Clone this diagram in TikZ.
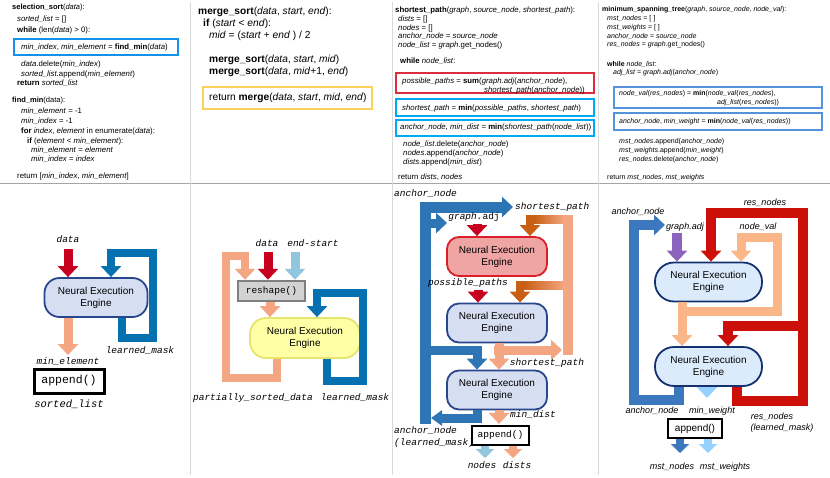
\documentclass[tikz,border=0pt]{standalone}
\usepackage{fontspec}
\setmainfont{Liberation Sans}
\setmonofont{Liberation Mono}
\usetikzlibrary{arrows.meta, positioning}

\definecolor{nred}{RGB}{200,0,32}
\definecolor{salmon}{RGB}{244,165,130}
\definecolor{nblue}{RGB}{5,113,176}
\definecolor{skyblue}{RGB}{146,197,222}
\definecolor{neefill}{RGB}{214,222,242}
\definecolor{needraw}{RGB}{40,70,140}
\definecolor{yfill}{RGB}{255,255,165}
\definecolor{ydraw}{RGB}{228,228,110}
\definecolor{rfill}{RGB}{240,165,165}
\definecolor{rdraw}{RGB}{220,30,40}
\definecolor{mblue}{RGB}{46,117,182}
\definecolor{dorange}{RGB}{200,95,20}
\definecolor{tblue}{RGB}{60,120,190}
\definecolor{purple4}{RGB}{140,100,190}
\definecolor{red4}{RGB}{205,15,10}
\definecolor{peach}{RGB}{250,182,135}
\definecolor{lblue4}{RGB}{150,210,255}
\definecolor{fill4}{RGB}{220,235,252}
\definecolor{draw4}{RGB}{20,50,110}
\definecolor{cbox1}{RGB}{20,145,230}
\definecolor{ybox}{RGB}{250,210,90}
\definecolor{rbox}{RGB}{220,45,60}
\definecolor{cbox3}{RGB}{0,170,240}
\definecolor{cbox4}{RGB}{85,145,220}

\begin{document}
\begin{tikzpicture}[x=1pt, y=-1pt, every node/.style={inner sep=1pt},
    code/.style={anchor=west, inner sep=0pt, font=\fontsize{7.8}{8}\selectfont},
    bigcode/.style={anchor=west, inner sep=0pt, font=\fontsize{10.2}{11}\selectfont},
    smallcode/.style={anchor=west, inner sep=0pt, font=\fontsize{7}{8}\selectfont},
    lbl/.style={font=\ttfamily\itshape\fontsize{9.5}{10}\selectfont},
    slbl/.style={font=\itshape\fontsize{9}{10}\selectfont},
    nee/.style={draw=needraw, fill=neefill, line width=1.8pt, rounded corners=15pt, minimum width=103pt, minimum height=39pt, align=center, font=\fontsize{10}{12}\selectfont},
    apbox/.style={draw, line width=2.5pt, fill=white, font=\ttfamily\fontsize{9.5}{10}\selectfont, minimum width=57pt, minimum height=19pt},
    fat/.style={line width=9pt, -{Triangle[width=20pt, length=11pt]}},
    outarrow/.style={line width=8pt, -{Triangle[width=18pt, length=9pt]}}]
    \useasboundingbox (0,0) rectangle (830,477);
    \draw[gray!70, line width=.8pt] (0,183) -- (830,183);
    \draw[gray!30] (190,2) -- (190,475);
    \draw[gray!30] (392,2) -- (392,475);
    \draw[gray!30] (598,2) -- (598,475);

    \node[code, font=\fontsize{7.5}{8}\selectfont] (ss1) at (12,8) {\textbf{selection\_sort}(\textit{data}):};
    \node[code] (ss2) at (17,19) {\textit{sorted\_list} = []};
    \node[code] (ss3) at (17,30) {\textbf{while} (len(\textit{data}) > 0):};
    \draw[cbox1, line width=2pt] (14,39) rectangle (178,55);
    \node[code] (ss4) at (21,47) {\textit{min\_index}, \textit{min\_element} = \textbf{find\_min}(\textit{data})};
    \node[code] (ss5) at (21,64) {\textit{data}.delete(\textit{min\_index})};
    \node[code] (ss6) at (21,74) {\textit{sorted\_list}.append(\textit{min\_element})};
    \node[code] (ss7) at (17,83) {\textbf{return} \textit{sorted\_list}};
    \node[code, font=\fontsize{7.5}{8}\selectfont] (fm1) at (12,101) {\textbf{find\_min}(data):};
    \node[code] (fm2) at (21,111) {\textit{min\_element} = -1};
    \node[code] (fm3) at (21,121) {\textit{min\_index} = -1};
    \node[code] (fm4) at (21,131) {\textbf{for} \textit{index}, \textit{element} in enumerate(\textit{data}):};
    \node[code] (fm5) at (27,141) {\textbf{if} (\textit{element} < \textit{min\_element}):};
    \node[code] (fm6) at (31,150) {\textit{min\_element} = \textit{element}};
    \node[code] (fm7) at (31,159) {\textit{min\_index} = \textit{index}};
    \node[code] (fm8) at (17,176) {return [\textit{min\_index}, \textit{min\_element}]};

    \node[bigcode] (ms1) at (198,12) {\textbf{merge\_sort}(\textit{data}, \textit{start}, \textit{end}):};
    \node[bigcode] (ms2) at (203,24) {\textbf{if} (\textit{start} < \textit{end}):};
    \node[bigcode] (ms3) at (209,36) {\textit{mid} = (\textit{start} + \textit{end} ) / 2};
    \node[bigcode] (ms4) at (209,60) {\textbf{merge\_sort}(\textit{data}, \textit{start}, \textit{mid})};
    \node[bigcode] (ms5) at (209,72) {\textbf{merge\_sort}(\textit{data}, \textit{mid}+1, \textit{end})};
    \draw[ybox, line width=2.5pt] (203,87) rectangle (372,109);
    \node[bigcode] (ms6) at (209,98) {return \textbf{merge}(\textit{data}, \textit{start}, \textit{mid}, \textit{end})};

    \node[code] (sp1) at (395,10) {\textbf{shortest\_path}(\textit{graph}, \textit{source\_node}, \textit{shortest\_path}):};
    \node[code] (sp2) at (398,19) {\textit{dists} = []};
    \node[code] (sp3) at (398,28) {\textit{nodes} = []};
    \node[code] (sp4) at (398,36) {\textit{anchor\_node} = \textit{source\_node}};
    \node[code] (sp5) at (398,45) {\textit{node\_list} = \textit{graph}.get\_nodes()};
    \node[code] (sp6) at (400,61) {\textbf{while} \textit{node\_list}:};
    \draw[rbox, line width=2pt] (396,73) rectangle (594,93);
    \node[code] (sp7) at (402,81) {\textit{possible\_paths} = \textbf{sum}(\textit{graph.adj}(\textit{anchor\_node}),};
    \node[code] (sp8) at (484,90) {\textit{shortest\_path}(\textit{anchor\_node}))};
    \draw[cbox3, line width=2pt] (396,99) rectangle (594,116);
    \node[code] (sp9) at (402,108) {\textit{shortest\_path} = \textbf{min}(\textit{possible\_paths}, \textit{shortest\_path})};
    \draw[cbox3, line width=2pt] (396,120) rectangle (594,136);
    \node[code] (sp10) at (400,127) {\textit{anchor\_node}, \textit{min\_dist} = \textbf{min}(\textit{shortest\_path}(\textit{node\_list}))};
    \node[code] (sp11) at (403,144) {\textit{node\_list}.delete(\textit{anchor\_node})};
    \node[code] (sp12) at (403,153) {\textit{nodes}.append(\textit{anchor\_node})};
    \node[code] (sp13) at (403,162) {\textit{dists}.append(\textit{min\_dist})};
    \node[code] (sp14) at (398,177) {return \textit{dists}, \textit{nodes}};

    \node[smallcode] (mt1) at (602,10) {\textbf{minimum\_spanning\_tree}(\textit{graph}, \textit{source\_node}, \textit{node\_val}):};
    \node[smallcode] (mt2) at (607,19) {\textit{mst\_nodes} = [ ]};
    \node[smallcode] (mt3) at (607,28) {\textit{mst\_weights} = [ ]};
    \node[smallcode] (mt4) at (607,36) {\textit{anchor\_node} = \textit{source\_node}};
    \node[smallcode] (mt5) at (607,45) {\textit{res\_nodes} = \textit{graph}.get\_nodes()};
    \node[smallcode] (mt6) at (607,64) {\textbf{while} \textit{node\_list}:};
    \node[smallcode] (mt7) at (613,73) {\textit{adj\_list} = \textit{graph}.\textit{adj}(\textit{anchor\_node})};
    \draw[cbox4, line width=2pt] (614,87) rectangle (822,108);
    \node[smallcode] (mt8) at (619,94) {\textit{node\_val}(\textit{res\_nodes}) = \textbf{min}(\textit{node\_val}(\textit{res\_nodes}),};
    \node[smallcode] (mt9) at (717,103) {\textit{adj\_list}(\textit{res\_nodes}))};
    \draw[cbox4, line width=2pt] (614,113) rectangle (822,130);
    \node[smallcode] (mt10) at (619,122) {\textit{anchor\_node}, \textit{min\_weight} = \textbf{min}(\textit{node\_val}(\textit{res\_nodes}))};
    \node[smallcode] (mt11) at (619,142) {\textit{mst\_nodes}.append(\textit{anchor\_node})};
    \node[smallcode] (mt12) at (619,151) {\textit{mst\_weights}.append(\textit{min\_weight})};
    \node[smallcode] (mt13) at (619,160) {\textit{res\_nodes}.delete(\textit{anchor\_node})};
    \node[smallcode] (mt14) at (607,178) {return \textit{mst\_nodes}, \textit{mst\_weights}};

    \node[nee] (n1) at (96,297.5) {Neural Execution\\Engine};
    \coordinate (da1) at (68,249);
    \node[lbl, above=5pt of da1] (dl1) {data};
    \draw[fat, nred] (da1) -- (da1 |- n1.north);
    \coordinate (me1) at (68,355);
    \draw[fat, salmon] ([xshift=-28pt]n1.south) -- (me1);
    \node[lbl, below=1pt of me1] (ml1) {min\_element};
    \draw[fat, nblue, line width=8pt] ([xshift=26pt]n1.south) -- (122,338) -- (153,338) -- (153,253) -- (111,253) -- ([xshift=15pt]n1.north);
    \node[lbl] (lm1) at (140,351) {learned\_mask};
    \node[apbox, line width=3pt, minimum width=70pt, minimum height=24pt, font=\ttfamily\fontsize{11.5}{12}\selectfont] (ap1) at (69,381) {append()};
    \node[lbl, font=\ttfamily\itshape\fontsize{10.5}{11}\selectfont, below=4pt of ap1] (sl1) {sorted\_list};

    \node[nee, fill=yfill, draw=ydraw, minimum width=110pt, minimum height=40pt, rounded corners=16pt] (y2) at (305,338) {Neural Execution\\Engine};
    \node[draw=gray, fill=gray!35, line width=2.5pt, minimum width=67pt, minimum height=20pt, font=\ttfamily\fontsize{9.5}{10}\selectfont] (rs2) at (271.5,291) {reshape()};
    \coordinate (da2) at (268,252);
    \coordinate (es2) at (295,252);
    \node[lbl] (dl2) at (267,243) {data};
    \node[lbl] (el2) at (313,243) {end-start};
    \draw[fat, nred] (da2) -- (da2 |- rs2.north);
    \draw[fat, skyblue] (es2) -- (es2 |- rs2.north);
    \draw[fat, salmon] ([xshift=-1.5pt]rs2.south) -- ([xshift=-35pt]y2.north);
    \draw[fat, salmon, line width=8.5pt] ([xshift=-28pt]y2.south) -- (277,378) -- (226,378) -- (226,256) -- (245,256) -- ([xshift=-26.5pt]rs2.north);
    \draw[fat, nblue, line width=8.5pt] ([xshift=22pt]y2.south) -- (327,381) -- (363,381) -- (363,293) -- (317,293) -- ([xshift=12pt]y2.north);
    \node[lbl] (ps2) at (253,398) {partially\_sorted\_data};
    \node[lbl] (lm2) at (355,398) {learned\_mask};

    \node[nee, fill=rfill, draw=rdraw, minimum width=100pt, rounded corners=12pt] (pa) at (497,256.5) {Neural Execution\\Engine};
    \node[nee, minimum width=100pt, rounded corners=12pt] (pb) at (497,323) {Neural Execution\\Engine};
    \node[nee, minimum width=100pt, rounded corners=12pt] (pc) at (497,390) {Neural Execution\\Engine};
    \node[lbl, anchor=west] (an3) at (393,194) {anchor\_node};
    \coordinate (sp3) at (513,207);
    \node[lbl, anchor=west, right=1pt of sp3] (sl3) {shortest\_path};
    \draw[fat, mblue, line width=11pt] (425,423.5) -- (425,207) -- (sp3);
    \draw[fat, mblue] (425,223) -- (447,223);
    \draw[fat, mblue] (425,350) -- (477,350) -- ([xshift=-20pt]pc.north);
    \draw[mblue, line width=9pt, -{Triangle[width=15pt, length=11pt]}] ([xshift=-20pt]pc.south) -- (477,418) -- (431,418);
    \coordinate (ga3) at (477,224);
    \node[lbl] (gl3) at (474,217) {graph.\textup{adj}};
    \draw[fat, nred] (ga3) -- ([xshift=-20pt]pa.north);
    \coordinate (pp3) at (478,290);
    \node[lbl] (pl3) at (468,283) {possible\_paths};
    \draw[fat, nred] (pp3) -- ([xshift=-19pt]pb.north);
    \draw[fat, dorange, line width=8pt] (573,219) -- (530,219) -- ([xshift=33pt]pa.north);
    \shade[left color=dorange, right color=salmon] (534,215) rectangle (564,223);
    \draw[fat, dorange, line width=8pt] (573,285) -- (520,285) -- ([xshift=23pt]pb.north);
    \shade[left color=dorange, right color=salmon] (524,281) rectangle (564,289);
    \draw[salmon, line width=10pt] (568,355) -- (568,215);
    \draw[fat, salmon] ([xshift=2pt]pb.south) -- ([xshift=2pt]pc.north);
    \draw[fat, salmon] (494,350) -- (562,350);
    \node[lbl] (sl3b) at (547,363) {shortest\_path};
    \draw[fat, salmon] ([xshift=2pt]pc.south) -- ++(0,13.5);
    \node[lbl] (md3) at (533,415) {min\_dist};
    \node[lbl, anchor=west] (an3b) at (393,431) {anchor\_node};
    \node[lbl, anchor=west] (lm3) at (393,443) {(learned\_mask)};
    \node[apbox] (ap3) at (500.5,435.5) {append()};
    \coordinate (no3) at (485,458);
    \coordinate (di3) at (513,458);
    \draw[outarrow, skyblue] (ap3.south -| no3) -- (no3);
    \draw[outarrow, salmon] (ap3.south -| di3) -- (di3);
    \node[lbl] (nl3) at (482,465) {nodes};
    \node[lbl] (dl3) at (517,465) {dists};

    \node[nee, fill=fill4, draw=draw4, minimum width=107pt, rounded corners=19pt] (na) at (708.5,282) {Neural Execution\\Engine};
    \node[nee, fill=fill4, draw=draw4, minimum width=107pt, rounded corners=19pt] (nb) at (708.5,366.5) {Neural Execution\\Engine};
    \node[slbl] (an4) at (638,212) {anchor\_node};
    \node[slbl] (ga4) at (685,227) {graph.adj};
    \node[slbl] (rn4) at (765,203) {res\_nodes};
    \node[slbl] (nv4) at (758,227) {node\_val};
    \draw[fat, tblue, line width=10pt] ([xshift=-29.5pt]nb.south) -- (679,400) -- (634,400) -- (634,225) -- (665,225);
    \coordinate (pu4) at (677,233);
    \draw[fat, purple4, line width=10pt] (pu4) -- (pu4 |- na.north);
    \draw[fat, red4, line width=10pt] ([xshift=28.5pt]nb.south) -- (737,401) -- (803,401) -- (803,213) -- (711,213) -- ([xshift=2.5pt]na.north);
    \draw[fat, red4, line width=10pt] (808,325.5) -- (728,325.5) -- ([xshift=19.5pt]nb.north);
    \draw[fat, peach] ([xshift=-26.5pt]na.south) -- ([xshift=-26.5pt]nb.north);
    \draw[fat, peach] (677.5,311) -- (777,311) -- (777,237) -- (741,237) -- ([xshift=32.5pt]na.north);
    \coordinate (mw4) at (707,398);
    \draw[fat, lblue4] (nb.south -| mw4) -- (mw4);
    \node[slbl] (an4b) at (652,411) {anchor\_node};
    \node[slbl] (mw4l) at (712,411) {min\_weight};
    \node[slbl] (rn4b) at (772,417) {res\_nodes};
    \node[slbl] (lm4) at (782,428) {(learned\_mask)};
    \node[apbox, font=\fontsize{10}{11}\selectfont, minimum width=54pt] (ap4) at (695,428.5) {append()};
    \coordinate (mn4) at (680,453);
    \coordinate (mx4) at (708,453);
    \draw[outarrow, tblue] (ap4.south -| mn4) -- (mn4);
    \draw[outarrow, lblue4] (ap4.south -| mx4) -- (mx4);
    \node[slbl] (mnl4) at (672,467) {mst\_nodes};
    \node[slbl] (mxl4) at (725,467) {mst\_weights};
\end{tikzpicture}
\end{document}
